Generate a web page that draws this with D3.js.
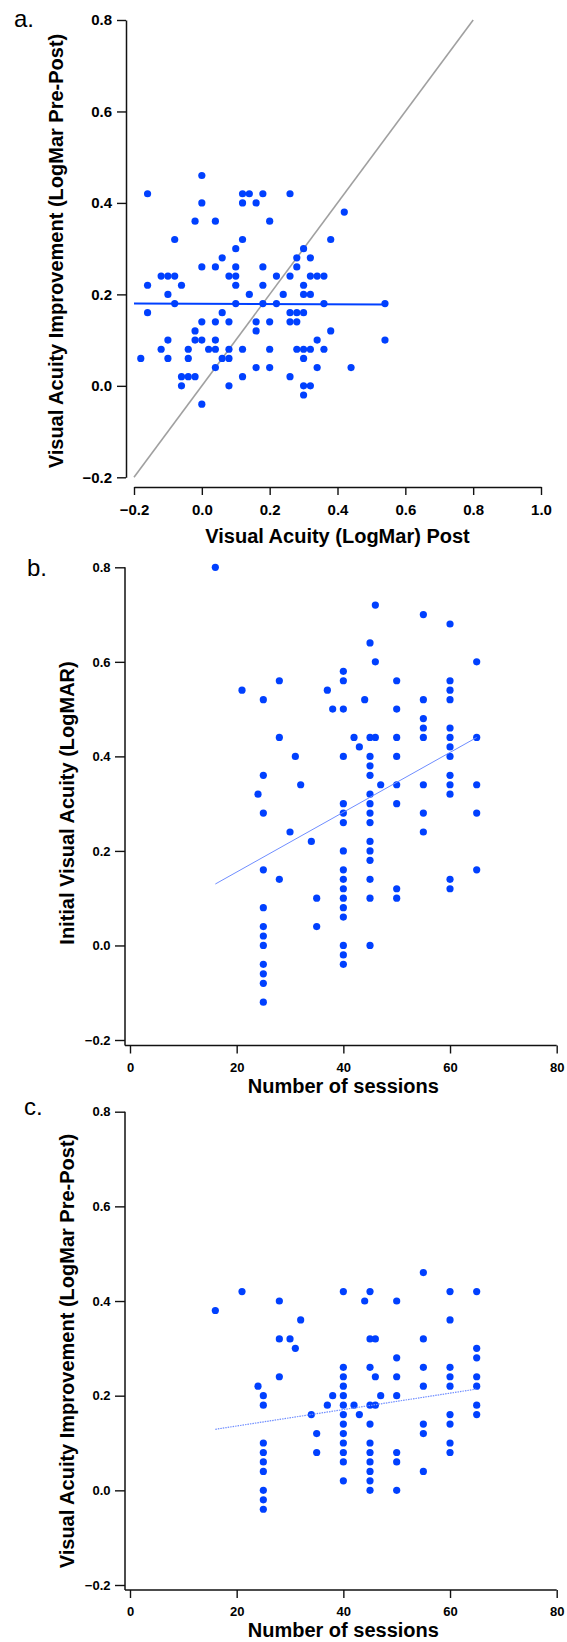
<!DOCTYPE html>
<html>
<head>
<meta charset="utf-8">
<script src="https://cdn.jsdelivr.net/npm/d3@7"></script>
<style>
  body { margin: 0; background: #fff; }
  svg { display: block; font-family: "Liberation Sans", Arial, Helvetica, sans-serif; }
</style>
</head>
<body>
<svg id="drawing_region"></svg>
<script>
// ---- data ----
// panel a: post-training acuity vs improvement
const postA = [
  0.0,
  -0.16, 0.12, 0.14, 0.18, 0.26,
  0.0, 0.12, 0.16,
  0.42,
  -0.02, 0.04, 0.20,
  -0.08, 0.12, 0.38,
  0.10, 0.30,
  0.06, 0.28, 0.32,
  0.0, 0.04, 0.10, 0.18, 0.28,
  -0.12, -0.10, -0.08, 0.08, 0.10, 0.22, 0.26, 0.32, 0.34, 0.36,
  -0.16, -0.06, 0.10, 0.18, 0.30,
  -0.10, 0.14, 0.24, 0.30, 0.32,
  -0.08, 0.10, 0.18, 0.22, 0.36, 0.54,
  -0.16, 0.06, 0.26, 0.28, 0.30,
  0.0, 0.04, 0.08, 0.16, 0.20, 0.26, 0.28,
  -0.02, 0.16, 0.38,
  -0.10, -0.02, 0.0, 0.04, 0.34, 0.54,
  -0.12, -0.04, 0.02, 0.04, 0.08, 0.12, 0.20, 0.28, 0.30, 0.32, 0.36,
  -0.18, -0.10, -0.04, 0.06, 0.08, 0.30,
  0.04, 0.16, 0.20, 0.34, 0.44,
  -0.06, -0.04, -0.02, 0.12, 0.26,
  -0.06, 0.08, 0.30, 0.32,
  0.30,
  0.0
];
const improveA = [
  0.46,
  0.42, 0.42, 0.42, 0.42, 0.42,
  0.40, 0.40, 0.40,
  0.38,
  0.36, 0.36, 0.36,
  0.32, 0.32, 0.32,
  0.30, 0.30,
  0.28, 0.28, 0.28,
  0.26, 0.26, 0.26, 0.26, 0.26,
  0.24, 0.24, 0.24, 0.24, 0.24, 0.24, 0.24, 0.24, 0.24, 0.24,
  0.22, 0.22, 0.22, 0.22, 0.22,
  0.20, 0.20, 0.20, 0.20, 0.20,
  0.18, 0.18, 0.18, 0.18, 0.18, 0.18,
  0.16, 0.16, 0.16, 0.16, 0.16,
  0.14, 0.14, 0.14, 0.14, 0.14, 0.14, 0.14,
  0.12, 0.12, 0.12,
  0.10, 0.10, 0.10, 0.10, 0.10, 0.10,
  0.08, 0.08, 0.08, 0.08, 0.08, 0.08, 0.08, 0.08, 0.08, 0.08, 0.08,
  0.06, 0.06, 0.06, 0.06, 0.06, 0.06,
  0.04, 0.04, 0.04, 0.04, 0.04,
  0.02, 0.02, 0.02, 0.02, 0.02,
  0.0, 0.0, 0.0, 0.0,
  -0.02,
  -0.04
];
const fitAx = [-0.2, 0.54];
const fitAy = [0.180, 0.178];
const unityX = [-0.2, 0.8];
const unityY = [-0.2, 0.8];

// panel b: number of sessions vs initial acuity
const sessionsB = [
  16, 21, 24,
  25, 25, 25, 25, 25, 25, 25, 25, 25, 25, 25, 25,
  28, 28, 28, 30, 31, 32, 34, 35, 35, 37, 38,
  40, 40, 40, 40, 40, 40, 40, 40, 40, 40, 40, 40, 40, 40, 40, 40, 40,
  42, 43, 44,
  45, 45, 45, 45, 45, 45, 45, 45, 45, 45, 45, 45, 45, 45, 45,
  46, 46, 46, 47,
  50, 50, 50, 50, 50, 50, 50, 50,
  55, 55, 55, 55, 55, 55, 55, 55,
  60, 60, 60, 60, 60, 60, 60, 60, 60, 60, 60, 60, 60,
  65, 65, 65, 65, 65
];
const initialB = [
  0.80, 0.54, 0.32,
  0.52, 0.36, 0.28, 0.16, 0.08, 0.04, 0.02, 0.0, -0.04, -0.06, -0.08, -0.12,
  0.56, 0.44, 0.14, 0.24, 0.40, 0.34, 0.22, 0.10, 0.04, 0.54, 0.50,
  0.58, 0.56, 0.50, 0.40, 0.30, 0.28, 0.26, 0.20, 0.16, 0.14, 0.12, 0.10, 0.08, 0.06, 0.0, -0.02, -0.04,
  0.44, 0.42, 0.52,
  0.64, 0.44, 0.40, 0.38, 0.36, 0.32, 0.30, 0.28, 0.26, 0.22, 0.20, 0.18, 0.14, 0.10, 0.0,
  0.72, 0.60, 0.44, 0.34,
  0.56, 0.50, 0.44, 0.40, 0.34, 0.30, 0.12, 0.10,
  0.70, 0.52, 0.48, 0.46, 0.44, 0.34, 0.28, 0.24,
  0.68, 0.56, 0.54, 0.52, 0.46, 0.44, 0.42, 0.40, 0.36, 0.34, 0.32, 0.14, 0.12,
  0.60, 0.44, 0.34, 0.28, 0.16
];
const fitBx = [16, 65];
const fitBy = [0.13, 0.44];

// panel c: number of sessions vs improvement
const sessionsC = [
  16, 21, 24,
  25, 25, 25, 25, 25, 25, 25, 25, 25,
  28, 28, 28, 30, 31, 32, 34, 35, 35, 37, 38,
  40, 40, 40, 40, 40, 40, 40, 40, 40, 40, 40, 40, 40,
  42, 43, 44,
  45, 45, 45, 45, 45, 45, 45, 45, 45, 45, 45,
  46, 46, 46, 47,
  50, 50, 50, 50, 50, 50, 50,
  55, 55, 55, 55, 55, 55, 55,
  60, 60, 60, 60, 60, 60, 60, 60, 60,
  65, 65, 65, 65, 65, 65, 65
];
const improveC = [
  0.38, 0.42, 0.22,
  0.20, 0.18, 0.10, 0.08, 0.06, 0.04, 0.0, -0.02, -0.04,
  0.40, 0.32, 0.24, 0.32, 0.30, 0.36, 0.16, 0.12, 0.08, 0.18, 0.20,
  0.42, 0.26, 0.24, 0.22, 0.20, 0.18, 0.16, 0.14, 0.12, 0.10, 0.08, 0.06, 0.02,
  0.18, 0.16, 0.40,
  0.42, 0.32, 0.26, 0.18, 0.14, 0.10, 0.08, 0.06, 0.04, 0.02, 0.0,
  0.32, 0.24, 0.18, 0.20,
  0.40, 0.28, 0.24, 0.20, 0.08, 0.06, 0.0,
  0.46, 0.32, 0.26, 0.22, 0.14, 0.12, 0.04,
  0.42, 0.36, 0.26, 0.24, 0.22, 0.16, 0.14, 0.10, 0.08,
  0.42, 0.30, 0.28, 0.24, 0.22, 0.18, 0.16
];
const fitCx = [16, 65];
const fitCy = [0.129, 0.214];

// tick values
const acuityTicks = [-0.2, 0.0, 0.2, 0.4, 0.6, 0.8];
const postTicks = [-0.2, 0.0, 0.2, 0.4, 0.6, 0.8, 1.0];
const sessionTicks = [0, 20, 40, 60, 80];

// ---- drawing ----
const W = 567, H = 1642;
const dotColor = '#0040ff';
const svg = d3.select('#drawing_region').attr('width', W).attr('height', H);

const zip = (xs, ys) => xs.map((x, i) => ({x: x, y: ys[i]}));

function drawPanel(cfg) {
  const x = d3.scaleLinear().domain(cfg.xDomain).range(cfg.xRange);
  const y = d3.scaleLinear().domain([-0.2, 0.8]).range(cfg.yRange);
  const g = svg.append('g');

  // y axis
  const yAxis = g.append('g')
    .attr('transform', `translate(${cfg.yAxisX},0)`)
    .call(d3.axisLeft(y).tickValues(acuityTicks).tickFormat(d3.format('.1f'))
      .tickSize(cfg.tickLen).tickSizeOuter(0).tickPadding(cfg.yPad));
  // x axis
  const xAxis = g.append('g')
    .attr('transform', `translate(0,${cfg.xAxisY})`)
    .call(d3.axisBottom(x).tickValues(cfg.xTicks).tickFormat(cfg.xFormat)
      .tickSize(8).tickSizeOuter(0).tickPadding(cfg.xPad));

  [yAxis, xAxis].forEach(ax => {
    ax.selectAll('line').attr('stroke', '#111').attr('stroke-width', 1.4);
    ax.select('.domain').attr('stroke', '#111').attr('stroke-width', 1.5);
    ax.selectAll('text').attr('fill', '#000')
      .style('font-size', cfg.tickFont + 'px').style('font-weight', 'bold')
      .style('font-family', '"Liberation Sans", Arial, sans-serif');
  });

  if (cfg.joined) {
    // axes meet in the corner
    yAxis.select('.domain').remove();
    xAxis.select('.domain').remove();
    g.append('line')
      .attr('x1', cfg.yAxisX).attr('x2', cfg.yAxisX)
      .attr('y1', y(0.8)).attr('y2', cfg.xAxisY)
      .attr('stroke', '#111').attr('stroke-width', 1.5);
    g.append('line')
      .attr('x1', cfg.yAxisX).attr('x2', x(cfg.xDomain[1]))
      .attr('y1', cfg.xAxisY).attr('y2', cfg.xAxisY)
      .attr('stroke', '#111').attr('stroke-width', 1.5);
  }

  const line = d3.line().x(d => x(d.x)).y(d => y(d.y));

  if (cfg.unity) {
    g.append('path').datum(zip(unityX, unityY))
      .attr('d', line).attr('fill', 'none')
      .attr('stroke', '#a0a0a0').attr('stroke-width', 1.6);
  }

  g.append('g').selectAll('circle')
    .data(zip(cfg.xs, cfg.ys))
    .join('circle')
    .attr('cx', d => x(d.x)).attr('cy', d => y(d.y))
    .attr('r', 3.6).attr('fill', dotColor);

  g.append('path').datum(zip(cfg.fitX, cfg.fitY))
    .attr('d', line).attr('fill', 'none')
    .attr('stroke', cfg.fitColor).attr('stroke-width', cfg.fitWidth)
    .attr('stroke-dasharray', cfg.fitDash || null);

  // titles
  g.append('text')
    .attr('x', (x.range()[0] + x.range()[1]) / 2).attr('y', cfg.xTitleY)
    .attr('text-anchor', 'middle')
    .style('font-size', '20px').style('font-weight', 'bold')
    .text(cfg.xTitle);
  g.append('text')
    .attr('transform', `translate(${cfg.yTitleX},${cfg.yTitleMid}) rotate(-90)`)
    .attr('text-anchor', 'middle')
    .style('font-size', '20px').style('font-weight', 'bold')
    .text(cfg.yTitle);
  g.append('text')
    .attr('x', cfg.letterX).attr('y', cfg.letterY)
    .style('font-size', '24px')
    .text(cfg.letter);
}

drawPanel({
  letter: 'a.', letterX: 14, letterY: 27,
  xs: postA, ys: improveA,
  xDomain: [-0.2, 1.0], xRange: [134, 541], yRange: [477.3, 20],
  xTicks: postTicks, xFormat: d3.format('.1f'),
  yAxisX: 126, xAxisY: 487, tickLen: 9, yPad: 5, xPad: 9, tickFont: 15,
  unity: true,
  fitX: fitAx, fitY: fitAy, fitColor: '#0040ff', fitWidth: 2,
  xTitle: 'Visual Acuity (LogMar) Post', xTitleY: 543,
  yTitle: 'Visual Acuity Improvement (LogMar Pre-Post)', yTitleX: 63, yTitleMid: 251
});

drawPanel({
  letter: 'b.', letterX: 27, letterY: 576,
  xs: sessionsB, ys: initialB,
  xDomain: [0, 80], xRange: [130, 556.7], yRange: [1040, 567.3],
  xTicks: sessionTicks, xFormat: d3.format('d'),
  yAxisX: 125, xAxisY: 1045.5, tickLen: 10, yPad: 4.5, xPad: 9, tickFont: 13,
  joined: true,
  fitX: fitBx, fitY: fitBy, fitColor: '#6f8dff', fitWidth: 1,
  xTitle: 'Number of sessions', xTitleY: 1093,
  yTitle: 'Initial Visual Acuity (LogMAR)', yTitleX: 74, yTitleMid: 803
});

drawPanel({
  letter: 'c.', letterX: 24, letterY: 1115,
  xs: sessionsC, ys: improveC,
  xDomain: [0, 80], xRange: [130, 556.7], yRange: [1585, 1111.7],
  xTicks: sessionTicks, xFormat: d3.format('d'),
  yAxisX: 125, xAxisY: 1590, tickLen: 10, yPad: 4.5, xPad: 9, tickFont: 13,
  joined: true,
  fitX: fitCx, fitY: fitCy, fitColor: '#6f8dff', fitWidth: 1.2, fitDash: '1.5,1',
  xTitle: 'Number of sessions', xTitleY: 1637,
  yTitle: 'Visual Acuity Improvement (LogMar Pre-Post)', yTitleX: 74, yTitleMid: 1351
});
</script>
</body>
</html>
